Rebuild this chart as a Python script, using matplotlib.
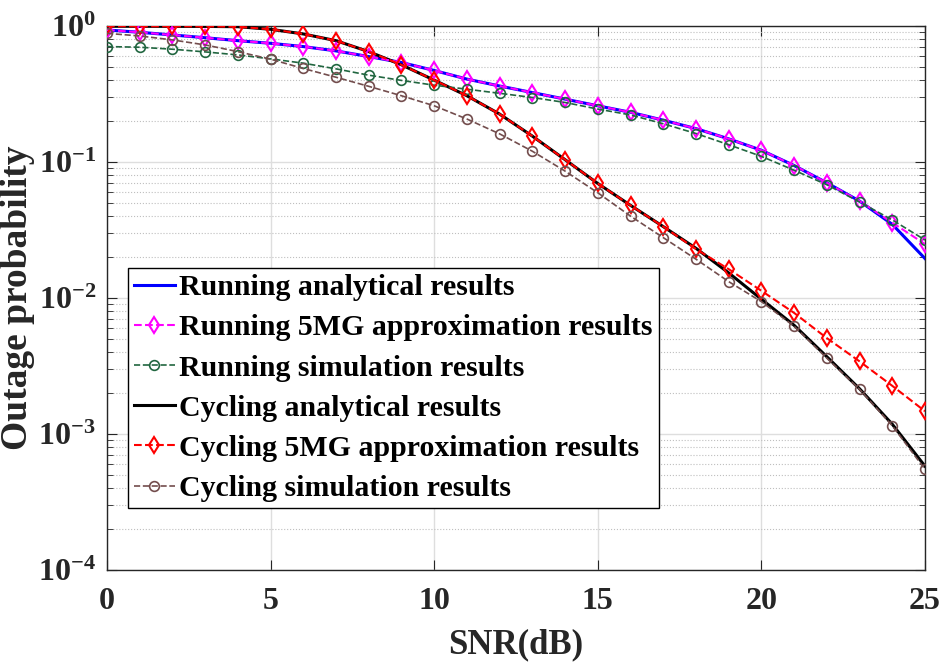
import numpy as np
import matplotlib
matplotlib.use('Agg')
import matplotlib.pyplot as plt
from matplotlib.ticker import LogLocator, NullFormatter, FixedLocator, FixedFormatter

plt.rcParams['font.family'] = 'Liberation Serif'
plt.rcParams['font.weight'] = 'bold'
plt.rcParams['mathtext.fontset'] = 'custom'
plt.rcParams['mathtext.rm'] = 'Liberation Serif:bold'
plt.rcParams['mathtext.bf'] = 'Liberation Serif:bold'
plt.rcParams['mathtext.it'] = 'Liberation Serif:bold'

# SNR в дБ
snr = np.arange(0, 26)

# Running
run_analytical = [0.935, 0.899, 0.859, 0.82, 0.78, 0.746, 0.706, 0.656, 0.596, 0.539,
                  0.471, 0.407, 0.362, 0.324, 0.29, 0.259, 0.232, 0.203, 0.176, 0.148,
                  0.122, 0.0942, 0.0703, 0.0516, 0.0348, 0.0195]
run_5mg = [0.935, 0.899, 0.859, 0.82, 0.78, 0.746, 0.706, 0.656, 0.596, 0.539,
           0.471, 0.407, 0.362, 0.324, 0.29, 0.259, 0.232, 0.203, 0.176, 0.148,
           0.122, 0.0942, 0.0703, 0.0516, 0.0358, 0.0249]
run_sim = [0.706, 0.698, 0.675, 0.645, 0.613, 0.573, 0.533, 0.484, 0.435, 0.398,
           0.367, 0.343, 0.32, 0.298, 0.274, 0.245, 0.222, 0.191, 0.162, 0.134,
           0.110, 0.087, 0.068, 0.0508, 0.0375, 0.0267]

# Cycling
cyc_analytical = [0.996, 0.995, 0.994, 0.993, 0.988, 0.946, 0.874, 0.78, 0.648, 0.518,
                  0.40, 0.307, 0.225, 0.155, 0.104, 0.0695, 0.048, 0.0335, 0.0232, 0.0153,
                  0.0098, 0.0063, 0.0037, 0.00215, 0.00118, 0.00058]
cyc_5mg = [0.996, 0.995, 0.994, 0.993, 0.988, 0.946, 0.874, 0.78, 0.648, 0.518,
           0.40, 0.307, 0.225, 0.155, 0.104, 0.0695, 0.048, 0.0335, 0.0229, 0.0163,
           0.0113, 0.00777, 0.00507, 0.00342, 0.00226, 0.00147]
cyc_sim = [0.883, 0.845, 0.79, 0.726, 0.648, 0.57, 0.487, 0.42, 0.36, 0.307,
           0.259, 0.207, 0.161, 0.12, 0.0857, 0.0594, 0.040, 0.0278, 0.0193, 0.0132,
           0.0094, 0.0062, 0.00361, 0.00213, 0.00115, 0.00055]

fig = plt.figure(figsize=(9.42, 6.71), dpi=100)
ax = fig.add_axes([107 / 942, 101 / 671, 818 / 942, 544 / 671])

green = (0.13, 0.40, 0.25)
brown = (0.45, 0.30, 0.30)

ax.semilogy(snr, run_analytical, '-', color='blue', lw=2.2, label='Running analytical results', zorder=3)
ax.semilogy(snr, run_5mg, '--', color='magenta', lw=1.5, marker='d', ms=8.5, mfc='none', mew=1.5,
            label='Running 5MG approximation results', zorder=4)
ax.semilogy(snr, run_sim, '--', color=green, lw=1.2, marker='o', ms=7, mfc='none', mew=1.2,
            label='Running simulation results', zorder=4)
ax.semilogy(snr, cyc_analytical, '-', color='black', lw=2.2, label='Cycling analytical results', zorder=3)
ax.semilogy(snr, cyc_5mg, '--', color='red', lw=1.5, marker='d', ms=8.5, mfc='none', mew=1.5,
            label='Cycling 5MG approximation results', zorder=4)
ax.semilogy(snr, cyc_sim, '--', color=brown, lw=1.2, marker='o', ms=7, mfc='none', mew=1.2,
            label='Cycling simulation results', zorder=4)

ax.set_xlim(0, 25)
ax.set_ylim(1e-4, 1)
ax.set_xticks([0, 5, 10, 15, 20, 25])
ax.yaxis.set_major_locator(FixedLocator([1e-4, 1e-3, 1e-2, 1e-1, 1]))
ax.yaxis.set_major_formatter(FixedFormatter([r'$\mathbf{10^{-4}}$', r'$\mathbf{10^{-3}}$',
                                             r'$\mathbf{10^{-2}}$', r'$\mathbf{10^{-1}}$',
                                             r'$\mathbf{10^{0}}$']))
ax.yaxis.set_minor_locator(LogLocator(base=10, subs=np.arange(2, 10), numticks=20))
ax.yaxis.set_minor_formatter(NullFormatter())

ax.grid(True, which='major', color=(0.87, 0.87, 0.87), lw=1.0, zorder=0)
ax.grid(True, which='minor', axis='y', color=(0.75, 0.75, 0.75), ls=':', lw=0.8, zorder=0)
ax.set_axisbelow(True)

ax.tick_params(which='both', direction='in', top=True, right=True, colors=(0.15, 0.15, 0.15),
               labelcolor=(0.15, 0.15, 0.15))
ax.tick_params(which='major', length=7, labelsize=23, pad=8)
ax.tick_params(axis='x', which='major', pad=12)
ax.tick_params(which='minor', length=4)
for s in ax.spines.values():
    s.set_color((0.15, 0.15, 0.15))
    s.set_linewidth(1.0)

ax.set_xlabel('SNR(dB)', fontsize=25, fontweight='bold', color=(0.15, 0.15, 0.15), labelpad=9)
ax.set_ylabel('Outage probability', fontsize=27, fontweight='bold', color=(0.15, 0.15, 0.15), labelpad=2)

leg = ax.legend(loc='lower left', bbox_to_anchor=(0.026, 0.114), fontsize=21.5, frameon=True,
                fancybox=False, edgecolor='black', framealpha=1, handlelength=1.35,
                handletextpad=0.15, labelspacing=0.44, borderpad=0.2, borderaxespad=0)
leg.get_frame().set_linewidth(1.0)
for t in leg.get_texts():
    t.set_fontweight('bold')

fig.savefig('out.png', dpi=100)
